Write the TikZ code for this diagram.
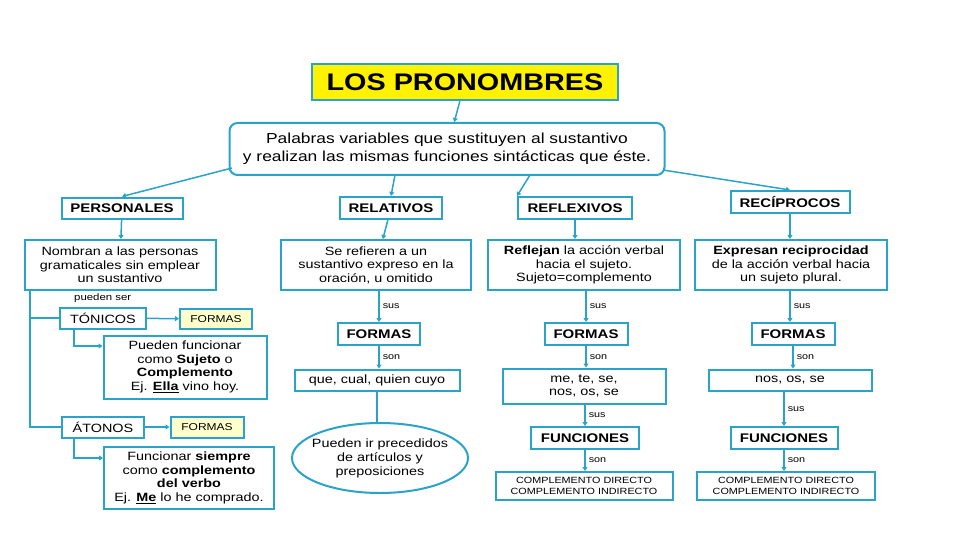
\documentclass[tikz,border=0pt]{standalone}
\usepackage{fontspec}
\setmainfont[FakeStretch=1.2]{Liberation Sans}
\usetikzlibrary{shapes.geometric,arrows.meta}
\definecolor{bl}{HTML}{2AA3C8}
\definecolor{ye}{HTML}{FFFFCC}
\begin{document}
\begin{tikzpicture}[x=1pt,y=-1pt,
  bx/.style={draw=bl,line width=2pt,inner sep=0pt,align=center,font=\fontsize{12}{13.5}\selectfont},
  hd/.style={bx,font=\fontsize{12.5}{14}\selectfont\bfseries},
  lb/.style={font=\fontsize{9}{10}\selectfont,inner sep=1pt,anchor=west},
  ar/.style={draw=bl,line width=1.5pt,-{Triangle[length=4pt,width=5pt]}},
  ln/.style={draw=bl,line width=1.5pt}]
\useasboundingbox (0,0) rectangle (960,540);
\node[draw=bl,line width=2.4pt,fill=yellow,minimum width=306pt,minimum height=36pt,font=\fontsize{24}{26}\selectfont\bfseries] (t) at (465,82) {LOS PRONOMBRES};
\node[bx,rounded corners=8pt,minimum width=435pt,minimum height=52pt,font=\fontsize{14.5}{18}\selectfont] (m) at (447,149) {Palabras variables que sustituyen al sustantivo\\ y realizan las mismas funciones sintácticas que éste.};
\draw[ar] (t) -- (m);
\node[hd,minimum width=121pt,minimum height=21pt] (p) at (122,208) {PERSONALES};
\node[hd,minimum width=102pt,minimum height=22pt] (r) at (391,208) {RELATIVOS};
\node[hd,minimum width=114pt,minimum height=22pt] (f) at (575,208) {REFLEXIVOS};
\node[hd,minimum width=119pt,minimum height=22pt] (c) at (790,202) {RECÍPROCOS};
\coordinate (m1) at (232,168); \coordinate (m2) at (395,175);
\coordinate (m3) at (530,175); \coordinate (m4) at (663,170);
\draw[ar] (m1) -- (p.north); \draw[ar] (m2) -- (r.north);
\draw[ar] (m3) -- (f.north west); \draw[ar] (m4) -- (c.north);
% personales
\node[bx,minimum width=191pt,minimum height=50pt] (pd) at (120,265) {Nombran a las personas\\gramaticales sin emplear\\un sustantivo};
\draw[ar] (p) -- (pd);
\node[lb,font=\fontsize{9.5}{10}\selectfont] (ps) at (73,298) {pueden ser};
\node[bx,minimum width=86pt,minimum height=21pt] (to) at (103,318) {TÓNICOS};
\node[bx,fill=ye,minimum width=72pt,minimum height=20pt,font=\fontsize{10}{11}\selectfont] (tf) at (216,319) {FORMAS};
\node[bx,minimum width=163pt,minimum height=63pt] (td) at (185,367) {Pueden funcionar\\como \textbf{Sujeto} o\\\textbf{Complemento}\\Ej. \underline{\textbf{Ella}} vino hoy.};
\node[bx,minimum width=82pt,minimum height=21pt] (at) at (103,427) {ÁTONOS};
\node[bx,fill=ye,minimum width=73pt,minimum height=21pt,font=\fontsize{10}{11}\selectfont] (af) at (207,427) {FORMAS};
\node[bx,minimum width=170pt,minimum height=62pt] (ad) at (189,478) {Funcionar \textbf{siempre}\\como \textbf{complemento}\\\textbf{del verbo}\\Ej. \underline{\textbf{Me}} lo he comprado.};
\coordinate (pl) at (30,290);
\coordinate (pa) at (30,427);
\draw[ln] (pl) -- (pa) -- (at.west);
\draw[ln] (30,318) -- (to.west);
\draw[ar] (to) -- (tf);
\draw[ar] (at) -- (af);
\draw[ar] (74,328) |- (td.west |- 0,346);
\draw[ar] (74,437) |- (ad.west |- 0,458);
% relativos
\node[bx,minimum width=190pt,minimum height=50pt] (rd) at (376,265) {Se refieren a un\\sustantivo expreso en la\\oración, u omitido};
\draw[ar] (r) -- (rd);
\node[hd,minimum width=82pt,minimum height=22pt] (rf) at (379,334) {FORMAS};
\node[bx,minimum width=165pt,minimum height=21pt] (rq) at (377,380) {que, cual, quien cuyo};
\node[draw=bl,line width=2pt,ellipse,minimum width=176pt,minimum height=70pt,inner sep=-8pt,align=center,font=\fontsize{12}{14}\selectfont] (re) at (380,458) {Pueden ir precedidos\\de artículos y\\preposiciones};
\draw[ar] (rd.south -| rf) -- node[lb,right=2pt] (s1) {sus} (rf);
\draw[ar] (rf) -- node[lb,right=2pt] (s2) {son} (rf |- rq.north);
\draw[ln] (rq.south) -- (re.north -| rq.south);
% reflexivos
\node[bx,minimum width=192pt,minimum height=50pt] (fd) at (584,265) {\textbf{Reflejan} la acción verbal\\hacia el sujeto.\\Sujeto=complemento};
\draw[ar] (f) -- (f |- fd.north);
\node[hd,minimum width=83pt,minimum height=22pt] (ff) at (586,334) {FORMAS};
\node[bx,minimum width=163pt,minimum height=35pt] (fm) at (584,386) {me, te, se,\\nos, os, se};
\node[hd,minimum width=108pt,minimum height=22pt] (fu) at (585,438) {FUNCIONES};
\node[bx,minimum width=177pt,minimum height=28pt,font=\fontsize{9}{10.5}\selectfont] (fc) at (584,486) {COMPLEMENTO DIRECTO\\COMPLEMENTO INDIRECTO};
\draw[ar] (fd.south -| ff) -- node[lb,right=2pt] (s3) {sus} (ff);
\draw[ar] (ff) -- node[lb,right=2pt] (s4) {son} (ff |- fm.north);
\draw[ar] (fm.south -| fu) -- node[lb,right=2pt] (s5) {sus} (fu);
\draw[ar] (fu) -- node[lb,right=2pt] (s6) {son} (fu |- fc.north);
% reciprocos
\node[bx,minimum width=192pt,minimum height=50pt] (cd) at (791,265) {\textbf{Expresan reciprocidad}\\de la acción verbal hacia\\un sujeto plural.};
\draw[ar] (c) -- (c |- cd.north);
\node[hd,minimum width=83pt,minimum height=22pt] (cf) at (793,334) {FORMAS};
\node[bx,minimum width=163pt,minimum height=21pt] (cm) at (790,380) {nos, os, se};
\node[hd,minimum width=107pt,minimum height=22pt] (cu) at (784,438) {FUNCIONES};
\node[bx,minimum width=178pt,minimum height=28pt,font=\fontsize{9}{10.5}\selectfont] (cc) at (786,486) {COMPLEMENTO DIRECTO\\COMPLEMENTO INDIRECTO};
\draw[ar] (cd.south -| c) -- node[lb,right=2pt] (s7) {sus} (c |- cf.north);
\draw[ar] (cf) -- node[lb,right=2pt] (s8) {son} (cf |- cm.north);
\draw[ar] (cm.south -| cu) -- node[lb,right=2pt] (s9) {sus} (cu);
\draw[ar] (cu) -- node[lb,right=2pt] (s10) {son} (cu |- cc.north);
\end{tikzpicture}
\end{document}
